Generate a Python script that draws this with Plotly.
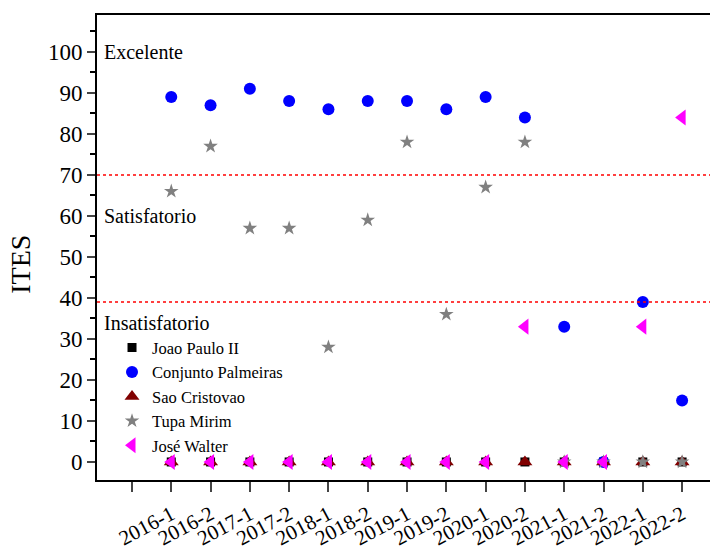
import plotly.graph_objects as go

periods = ["2016-1", "2016-2", "2017-1", "2017-2", "2018-1", "2018-2", "2019-1",
           "2019-2", "2020-1", "2020-2", "2021-1", "2021-2", "2022-1", "2022-2"]
joao_paulo = [0, 0, 0, 0, 0, 0, 0, 0, 0, 0, 0, 0, 0, 0]
palmeiras = [89, 87, 91, 88, 86, 88, 88, 86, 89, 84, 33, 0, 39, 15]
sao_cristovao = [0, 0, 0, 0, 0, 0, 0, 0, 0, 0, 0, 0, 0, 0]
tupa_mirim = [66, 77, 57, 57, 28, 59, 78, 36, 67, 78, 0, 0, 0, 0]
jose_walter = [0, 0, 0, 0, 0, 0, 0, 0, 0, 33, 0, 0, 33, 84]
thresholds = [70, 39]
class_labels = ["Excelente", "Satisfatorio", "Insatisfatorio"]
class_label_y = [100, 60, 34]

xpos = list(range(1, len(periods) + 1))
font = "Liberation Serif, Times New Roman, serif"

fig = go.Figure()
series = [
    ("Joao Paulo II", joao_paulo, dict(symbol="square", color="black", size=9)),
    ("Conjunto Palmeiras", palmeiras, dict(symbol="circle", color="#0000ff", size=12)),
    ("Sao Cristovao", sao_cristovao, dict(symbol="triangle-up", color="#800000", size=13)),
    ("Tupa Mirim", tupa_mirim, dict(symbol="star", color="#808080", size=11)),
    ("José Walter", jose_walter, dict(symbol="triangle-left", color="#ff00ff", size=14)),
]
for name, vals, mk in series:
    fig.add_trace(go.Scatter(x=xpos, y=vals, mode="markers", name=name,
                             marker=dict(line=dict(width=0), **mk)))

for t in thresholds:
    fig.add_hline(y=t, line=dict(color="red", width=1.5, dash="dot"))

for lbl, yv in zip(class_labels, class_label_y):
    fig.add_annotation(x=0.008, xref="paper", y=yv, yref="y", text=lbl,
                       showarrow=False, xanchor="left", yanchor="middle",
                       font=dict(family=font, size=20, color="black"))

# y-axis title placed like the reference (slightly below the axis centre)
fig.add_annotation(x=-0.124, xref="paper", y=0.465, yref="paper", text="ITES",
                   textangle=-90, showarrow=False, xanchor="center", yanchor="middle",
                   font=dict(family=font, size=28, color="black"))

fig.update_layout(
    width=712, height=551,
    margin=dict(l=97, r=2, t=15, b=71, autoexpand=False),
    plot_bgcolor="white", paper_bgcolor="white",
    font=dict(family=font, color="black"),
    showlegend=True,
    legend=dict(x=0.0245, y=0.322, xanchor="left", yanchor="top",
                bgcolor="rgba(0,0,0,0)", font=dict(family=font, size=16.5),
                itemsizing="trace", tracegroupgap=0),
    xaxis=dict(range=[-0.89, 14.71], tickmode="array", automargin=False,
               tickvals=[0] + xpos, ticktext=[""] + periods,
               tickangle=-28, tickfont=dict(family=font, size=21),
               ticks="outside", ticklen=10, tickwidth=1.5,
               ticklabelstandoff=2,
               showline=True, linecolor="black", linewidth=2, mirror=True,
               showgrid=False, zeroline=False),
    yaxis=dict(range=[-4.4, 109], tickmode="array", automargin=False,
               tickvals=list(range(0, 101, 10)),
               tickfont=dict(family=font, size=23),
               ticks="outside", ticklen=8, tickwidth=1.5,
               minor=dict(tickvals=list(range(5, 110, 10)), ticks="outside",
                          ticklen=5, tickwidth=1.5, tickcolor="black", showgrid=False),
               showline=True, linecolor="black", linewidth=2,
               showgrid=False, zeroline=False),
)

fig.write_html("out.html")
